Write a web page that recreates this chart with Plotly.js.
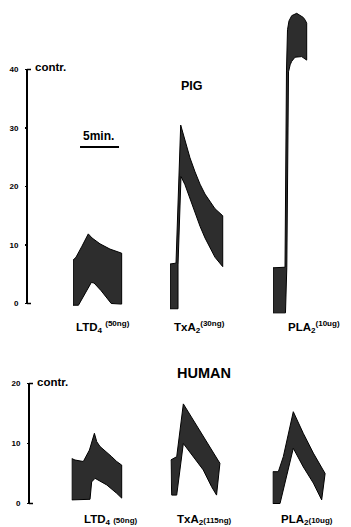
<!DOCTYPE html>
<html>
<head>
<meta charset="utf-8">
<script src="https://cdn.plot.ly/plotly-3.0.1.min.js"></script>
<style>
  html, body { margin: 0; padding: 0; background: #fff; }
  #chart { width: 351px; height: 527px; }
</style>
</head>
<body>
<div id="chart"></div>
<script>
// ---------- DATA (time in minutes from start of each record, contraction values) ----------
// PIG
const pigLTD4UpperT = [0, 0.38, 1.15, 1.96, 2.44, 3.46, 4.74, 5.77, 6.24];
const pigLTD4Upper  = [7.4, 7.9, 9.8, 11.9, 11.2, 10.2, 9.3, 8.8, 8.6];
const pigLTD4LowerT = [0, 0.7, 1.5, 2.35, 2.7, 3.6, 4.9, 6.24];
const pigLTD4Lower  = [-0.3, -0.3, 1.5, 3.6, 3.5, 2.2, 0.0, -0.1];

const pigTxA2UpperT = [0, 0.77, 1.37, 1.67, 2.05, 2.56, 3.21, 3.85, 4.49, 5.13, 5.77, 6.76];
const pigTxA2Upper  = [6.75, 6.9, 30.5, 29.1, 27.1, 24.9, 22.5, 20.4, 18.7, 17.4, 16.2, 15.0];
const pigTxA2LowerT = [0, 1.03, 1.03, 1.41, 1.92, 2.56, 3.21, 3.85, 4.49, 5.13, 5.77, 6.76];
const pigTxA2Lower  = [-0.9, -0.9, 6.6, 21.7, 20.3, 18.0, 15.6, 13.2, 11.2, 9.5, 7.9, 6.3];

const pigPLA2UpperT = [0, 1.54, 1.73, 1.86, 2.05, 2.40, 3.04, 3.88, 4.15, 4.32];
const pigPLA2Upper  = [6.1, 6.2, 39.9, 46.8, 48.3, 49.2, 49.6, 48.9, 48.4, 47.9];
const pigPLA2LowerT = [0, 1.6, 1.77, 1.99, 2.2, 2.4, 2.82, 3.68, 4.32];
const pigPLA2Lower  = [-1.6, -1.6, 6.1, 39.6, 40.8, 41.4, 42.1, 42.2, 41.6];

// HUMAN
const humLTD4UpperT = [0, 0.42, 1.49, 2.27, 2.91, 3.21, 3.63, 4.49, 5.13, 5.77, 6.41];
const humLTD4Upper  = [7.5, 7.25, 7.0, 8.9, 11.7, 10.3, 9.5, 8.6, 7.8, 7.0, 6.4];
const humLTD4LowerT = [0, 2.35, 2.56, 2.99, 4.49, 5.77, 6.41];
const humLTD4Lower  = [0.6, 0.7, 3.6, 4.2, 3.1, 1.7, 0.9];

const humTxA2UpperT = [0, 0.77, 1.62, 2.9, 4.17, 5.45, 6.31];
const humTxA2Upper  = [7.25, 7.8, 16.6, 13.9, 11.1, 8.4, 6.7];
const humTxA2LowerT = [0.13, 0.77, 1.62, 2.9, 4.17, 5.24, 5.88];
const humTxA2Lower  = [1.4, 1.4, 10.0, 7.8, 5.6, 2.8, 1.4];

const humPLA2UpperT = [0, 0.72, 1.36, 2.64, 3.92, 5.21, 6.72];
const humPLA2Upper  = [5.3, 5.3, 7.8, 15.3, 11.7, 8.4, 5.0];
const humPLA2LowerT = [0, 0.94, 2.64, 3.92, 5.21, 6.28];
const humPLA2Lower  = [0, 0, 9.2, 6.1, 3.4, 0.6];

// tick labels / texts
const pigTicks = [0, 10, 20, 30, 40];
const humTicks = [0, 10, 20];
const pigLabels = ['LTD<sub>4</sub> <sup>(50ng)</sup>', 'TxA<sub>2</sub><sup>(30ng)</sup>', 'PLA<sub>2</sub><sup>(10ug)</sup>'];
const humLabels = ['LTD<sub>4</sub> <span style="font-size:8px">(50ng)</span>',
                   'TxA<sub>2</sub><span style="font-size:8px">(115ng)</span>',
                   'PLA<sub>2</sub><span style="font-size:8px">(10ug)</span>'];
const scaleBarMinutes = 5;

// ---------- LAYOUT HELPERS ----------
const W = 351, H = 527;
const PX_PER_MIN = 7.8;
const REC_MIN = 9;
function xDom(leftPx) { return [leftPx / W, (leftPx + REC_MIN * PX_PER_MIN) / W]; }
function py(px) { return (H - px) / H; }

function band(tu, vu, tl, vl, xa, ya) {
  const xs = tu.concat(tl.slice().reverse(), [tu[0]]);
  const ys = vu.concat(vl.slice().reverse(), [vu[0]]);
  return {type: 'scatter', mode: 'lines', x: xs, y: ys, xaxis: xa, yaxis: ya,
          fill: 'toself', fillcolor: '#2d2d2d',
          line: {color: '#000', width: 1}, hoverinfo: 'skip'};
}

const data = [
  band(pigLTD4UpperT, pigLTD4Upper, pigLTD4LowerT, pigLTD4Lower, 'x', 'y'),
  band(pigTxA2UpperT, pigTxA2Upper, pigTxA2LowerT, pigTxA2Lower, 'x2', 'y'),
  band(pigPLA2UpperT, pigPLA2Upper, pigPLA2LowerT, pigPLA2Lower, 'x3', 'y'),
  band(humLTD4UpperT, humLTD4Upper, humLTD4LowerT, humLTD4Lower, 'x4', 'y2'),
  band(humTxA2UpperT, humTxA2Upper, humTxA2LowerT, humTxA2Lower, 'x5', 'y2'),
  band(humPLA2UpperT, humPLA2Upper, humPLA2LowerT, humPLA2Lower, 'x6', 'y2')
];

const FONT = 'Liberation Sans, Arial, sans-serif';
function xax(leftPx, anchor) {
  return {domain: xDom(leftPx), range: [0, REC_MIN], anchor: anchor, visible: false, fixedrange: true};
}
function yax(domain, range, ticks, posPx) {
  return {domain: domain, range: range, anchor: 'free', position: posPx / W,
          showline: false, showgrid: false, zeroline: false,
          tickvals: ticks, ticktext: ticks.map(String), ticks: 'outside', ticklen: 2, tickwidth: 1.5,
          tickcolor: '#000', ticklabelstandoff: 5,
          tickfont: {family: FONT, size: 8, color: '#000', weight: 'bold'}, fixedrange: true};
}

const PIG_AX = 27, HUM_AX = 29;
const layout = {
  width: W, height: H, margin: {l: 0, r: 0, t: 0, b: 0, autoexpand: false},
  paper_bgcolor: '#fff', plot_bgcolor: 'rgba(0,0,0,0)', showlegend: false,
  xaxis: xax(73, 'y'), xaxis2: xax(170, 'y'), xaxis3: xax(273, 'y'),
  xaxis4: xax(71.7, 'y2'), xaxis5: xax(170.7, 'y2'), xaxis6: xax(272.7, 'y2'),
  yaxis: yax([py(321.05), py(2.2)], [-3, 51.5], pigTicks, PIG_AX),
  yaxis2: yax([py(515.5), py(377.5)], [-2, 21], humTicks, HUM_AX),
  shapes: [
    // pig axis line + hooks
    {type: 'line', xref: 'paper', yref: 'y', x0: PIG_AX / W, x1: PIG_AX / W, y0: 0, y1: 40, line: {color: '#000', width: 2}},
    {type: 'line', xref: 'paper', yref: 'y', x0: PIG_AX / W, x1: (PIG_AX + 4) / W, y0: 40, y1: 40, line: {color: '#000', width: 1.5}},
    {type: 'line', xref: 'paper', yref: 'y', x0: PIG_AX / W, x1: (PIG_AX + 4) / W, y0: 0, y1: 0, line: {color: '#000', width: 1.5}},
    // human axis line + hooks
    {type: 'line', xref: 'paper', yref: 'y2', x0: HUM_AX / W, x1: HUM_AX / W, y0: 0, y1: 20, line: {color: '#000', width: 2}},
    {type: 'line', xref: 'paper', yref: 'y2', x0: HUM_AX / W, x1: (HUM_AX + 4) / W, y0: 20, y1: 20, line: {color: '#000', width: 1.5}},
    {type: 'line', xref: 'paper', yref: 'y2', x0: HUM_AX / W, x1: (HUM_AX + 4) / W, y0: 0, y1: 0, line: {color: '#000', width: 1.5}},
    // 5 min scale bar
    {type: 'line', xref: 'x', yref: 'paper', x0: 0.9, x1: 0.9 + scaleBarMinutes, y0: py(147), y1: py(147), line: {color: '#000', width: 2}}
  ],
  annotations: [
    {text: 'contr.', x: 34 / W, y: py(67), xanchor: 'left', yanchor: 'middle'},
    {text: 'contr.', x: 36 / W, y: py(382), xanchor: 'left', yanchor: 'middle'},
    {text: 'PIG', x: 191.5 / W, y: py(86), xanchor: 'center', yanchor: 'middle', font: {size: 12.5}},
    {text: 'HUMAN', x: 204 / W, y: py(373), xanchor: 'center', yanchor: 'middle', font: {size: 14.5}},
    {text: scaleBarMinutes + 'min.', x: 98 / W, y: py(136), xanchor: 'center', yanchor: 'middle', font: {size: 12}},
    {text: pigLabels[0], x: 75 / W, y: py(327), xanchor: 'left', yanchor: 'middle'},
    {text: pigLabels[1], x: 173 / W, y: py(327), xanchor: 'left', yanchor: 'middle'},
    {text: pigLabels[2], x: 287 / W, y: py(327), xanchor: 'left', yanchor: 'middle'},
    {text: humLabels[0], x: 83 / W, y: py(520), xanchor: 'left', yanchor: 'middle'},
    {text: humLabels[1], x: 176 / W, y: py(520), xanchor: 'left', yanchor: 'middle'},
    {text: humLabels[2], x: 280 / W, y: py(520), xanchor: 'left', yanchor: 'middle'}
  ].map(a => Object.assign({xref: 'paper', yref: 'paper', showarrow: false, borderpad: 0},
      a, {font: Object.assign({family: FONT, size: 11.5, color: '#000', weight: 'bold'}, a.font || {})}))
};

Plotly.newPlot('chart', data, layout, {staticPlot: true, displayModeBar: false});
</script>
</body>
</html>
